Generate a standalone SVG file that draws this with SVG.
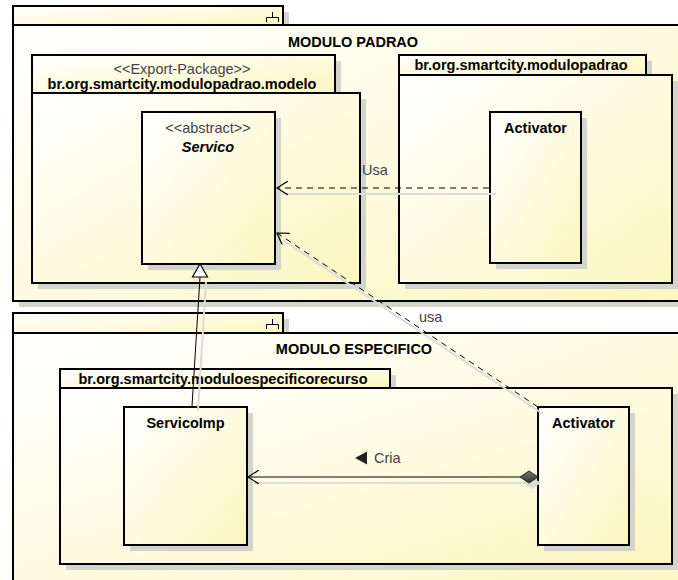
<svg xmlns="http://www.w3.org/2000/svg" width="678" height="580" viewBox="0 0 678 580">
  <defs>
    <linearGradient id="fillGrad" x1="0" y1="0" x2="1" y2="1">
      <stop offset="0" stop-color="#ffffff"/>
      <stop offset="1" stop-color="#fcf6c0"/>
    </linearGradient>
    <linearGradient id="diamondGrad" x1="0" y1="0" x2="0" y2="1">
      <stop offset="0" stop-color="#777777"/>
      <stop offset="1" stop-color="#333333"/>
    </linearGradient>
    <marker id="openArrow" viewBox="0 0 12 14" refX="11" refY="7" markerWidth="12" markerHeight="14" markerUnits="userSpaceOnUse" orient="auto">
      <path d="M0,0 L11,7 L0,14" fill="none" stroke="#000" stroke-width="1.2"/>
    </marker>
  </defs>
  <style>
    .shadow { fill: #d4d4cc; stroke: none; }
    .box { fill: url(#fillGrad); stroke: #000; stroke-width: 2; }
    .cshadow { fill: none; stroke: #dcdcd6; stroke-width: 2; }
    .conn { fill: none; stroke: #000; stroke-width: 1; }
    .dash { stroke-dasharray: 6 5; }
    .title { font-family: "Liberation Sans", Arial, sans-serif; font-size: 14.5px; font-weight: bold; fill: #000; text-anchor: middle; }
    .stereo { font-family: "Liberation Sans", Arial, sans-serif; font-size: 14.5px; fill: #444; text-anchor: middle; }
    .label { font-family: "Liberation Sans", Arial, sans-serif; font-size: 14.5px; fill: #444; }
    .icon { fill: none; stroke: #000; stroke-width: 1; }
  </style>

  <rect width="678" height="580" fill="#ffffff"/>

  <!-- Component MODULO PADRAO -->
  <g id="modulo-padrao">
    <rect class="shadow" x="19" y="12" width="270" height="19"/>
    <rect class="shadow" x="19" y="31" width="700" height="276"/>
    <rect class="box" x="13" y="6" width="270" height="19"/>
    <path class="icon" d="M272.5,12 V17.5 M266.5,22 V17.5 H278.5 V22"/>
    <rect class="box" x="13" y="25" width="700" height="276"/>
    <text class="title" x="353" y="47">MODULO PADRAO</text>
  </g>

  <!-- Package br.org.smartcity.modulopadrao.modelo -->
  <g id="pkg-modelo">
    <rect class="shadow" x="38" y="61" width="303" height="38"/>
    <rect class="shadow" x="38" y="99" width="328" height="190"/>
    <rect class="box" x="32" y="55" width="303" height="38"/>
    <rect class="box" x="32" y="93" width="328" height="190"/>
    <text class="stereo" x="182" y="74">&lt;&lt;Export-Package&gt;&gt;</text>
    <text class="title" x="182" y="89">br.org.smartcity.modulopadrao.modelo</text>
  </g>

  <!-- Package br.org.smartcity.modulopadrao -->
  <g id="pkg-modulopadrao">
    <rect class="shadow" x="405" y="61" width="247" height="20"/>
    <rect class="shadow" x="405" y="81" width="273" height="208"/>
    <rect class="box" x="399" y="55" width="247" height="20"/>
    <rect class="box" x="399" y="75" width="273" height="208"/>
    <text class="title" x="521" y="70">br.org.smartcity.modulopadrao</text>
  </g>

  <!-- Class Servico -->
  <g id="servico">
    <rect class="shadow" x="148" y="118" width="133" height="152"/>
    <rect class="box" x="142" y="112" width="133" height="152"/>
    <text class="stereo" x="208" y="133">&lt;&lt;abstract&gt;&gt;</text>
    <text class="title" x="208" y="152" font-style="italic">Servico</text>
  </g>

  <!-- Class Activator (modulopadrao) -->
  <g id="activator-padrao">
    <rect class="shadow" x="496" y="118" width="91" height="151"/>
    <rect class="box" x="490" y="112" width="91" height="151"/>
    <text class="title" x="535.5" y="133">Activator</text>
  </g>

  <!-- Component MODULO ESPECIFICO -->
  <g id="modulo-especifico">
    <rect class="shadow" x="19" y="319" width="270" height="20"/>
    <rect class="shadow" x="19" y="339" width="700" height="270"/>
    <rect class="box" x="13" y="313" width="270" height="20"/>
    <path class="icon" d="M272.5,319 V324.5 M266.5,329 V324.5 H278.5 V329"/>
    <rect class="box" x="13" y="333" width="700" height="270"/>
    <text class="title" x="354" y="354">MODULO ESPECIFICO</text>
  </g>

  <!-- Package br.org.smartcity.moduloespecificorecurso -->
  <g id="pkg-especifico">
    <rect class="shadow" x="66" y="375" width="330" height="19"/>
    <rect class="shadow" x="66" y="394" width="612" height="176"/>
    <rect class="box" x="60" y="369" width="330" height="19"/>
    <rect class="box" x="60" y="388" width="612" height="176"/>
    <text class="title" x="223" y="384">br.org.smartcity.moduloespecificorecurso</text>
  </g>

  <!-- Class ServicoImp -->
  <g id="servicoimp">
    <rect class="shadow" x="130" y="413" width="123" height="138"/>
    <rect class="box" x="124" y="407" width="123" height="138"/>
    <text class="title" x="185.5" y="428">ServicoImp</text>
  </g>

  <!-- Class Activator (moduloespecificorecurso) -->
  <g id="activator-especifico">
    <rect class="shadow" x="544" y="413" width="91" height="138"/>
    <rect class="box" x="538" y="407" width="91" height="138"/>
    <text class="title" x="583.5" y="428">Activator</text>
  </g>

  <!-- Relationships -->
  <g id="connectors">
    <!-- soft shadows under the lines -->
    <line class="cshadow" x1="282" y1="194" x2="496" y2="194"/>
    <line class="cshadow" x1="283" y1="240" x2="543" y2="414"/>
    <line class="cshadow" x1="198" y1="410" x2="206" y2="282"/>
    <line class="cshadow" x1="254" y1="483" x2="528" y2="483"/>
    <path d="M523,483 L532,477 L541,483 L532,489 Z" fill="#dcdcd6"/>

    <!-- Activator uses Servico -->
    <line class="conn dash" x1="489" y1="188" x2="277" y2="188" marker-end="url(#openArrow)"/>
    <text class="label" x="362" y="175">Usa</text>

    <!-- Activator (especifico) uses Servico -->
    <line class="conn dash" x1="538" y1="407" x2="277" y2="233" marker-end="url(#openArrow)"/>
    <text class="label" x="419" y="322">usa</text>

    <!-- ServicoImp extends Servico -->
    <line class="conn" x1="192" y1="406" x2="200" y2="277"/>
    <path d="M200,264 L207.5,277 L192.5,277 Z" fill="#fff" stroke="#000" stroke-width="1.2"/>

    <!-- Activator creates ServicoImp -->
    <line class="conn" x1="520" y1="477" x2="248" y2="477" marker-end="url(#openArrow)"/>
    <path d="M520,477 L529,471 L538,477 L529,483 Z" fill="url(#diamondGrad)" stroke="#222" stroke-width="1"/>
    <path d="M355,458 L367,451.5 L367,464.5 Z" fill="#222"/>
    <text class="label" x="374" y="463">Cria</text>
  </g>
</svg>
